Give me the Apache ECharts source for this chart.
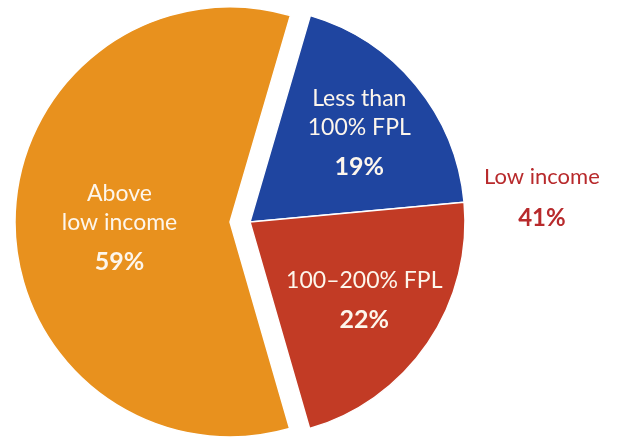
<!DOCTYPE html>
<html>
<head>
<meta charset="utf-8">
<script src="https://cdn.jsdelivr.net/npm/echarts@6/dist/echarts.min.js"></script>
<style>html,body{margin:0;padding:0;background:#fff}#c{width:620px;height:440px}</style>
</head>
<body>
<div id="c"></div>
<script>
var categories = ['Less than\n100% FPL', '100\u2013200% FPL', 'Above\nlow income'];
var values = [19, 22, 59];
var colors = ['#1f45a0', '#c23b25', '#e8911e'];
var groupLabel = 'Low income';
var groupValue = 41;

var labelShift = [[24, -14], [23, 21], [0, 11]];

var chart = echarts.init(document.getElementById('c'));
var data = categories.map(function (name, i) {
  var d = {
    name: name,
    value: values[i],
    itemStyle: { color: colors[i] },
    select: { itemStyle: { color: colors[i] } }
  };
  if (i === 2) d.selected = true;
  return d;
});
chart.setOption({
  animation: false,
  backgroundColor: '#ffffff',
  series: [{
    type: 'pie',
    center: [250, 222],
    radius: 215,
    startAngle: 73.7,
    clockwise: true,
    selectedMode: 'single',
    selectedOffset: 20,
    avoidLabelOverlap: false,
    emphasis: { disabled: true },
    itemStyle: { borderColor: '#ffffff', borderWidth: 1.5 },
    label: {
      show: true,
      position: 'inside',
      fontFamily: 'Lato',
      color: '#fdf6ec',
      formatter: function (p) {
        var lines = p.name.split('\n').map(function (s) { return '{t|' + s + '}'; });
        return lines.join('\n') + '\n{p|' + p.value + '%}';
      },
      rich: {
        t: { fontFamily: 'Lato', fontSize: 23, lineHeight: 29, color: '#fdf6ec' },
        p: { fontFamily: 'Lato', fontSize: 25, fontWeight: 'bold', lineHeight: 50, color: '#fdf6ec' }
      }
    },
    labelLine: { show: false },
    labelLayout: function (params) {
      var s = labelShift[params.dataIndex];
      return { dx: s[0], dy: s[1] };
    },
    data: data
  }],
  graphic: [{
    type: 'text',
    left: 484,
    top: 166,
    style: {
      text: '{a|' + groupLabel + '}\n{b|' + groupValue + '%}',
      align: 'center',
      fill: '#b82a2c',
      rich: {
        a: { fontFamily: 'Lato', fontSize: 22, lineHeight: 30, fill: '#b82a2c', align: 'center' },
        b: { fontFamily: 'Lato', fontSize: 24, fontWeight: 'bold', lineHeight: 52, fill: '#b82a2c', align: 'center' }
      }
    }
  }]
});
</script>
</body>
</html>
